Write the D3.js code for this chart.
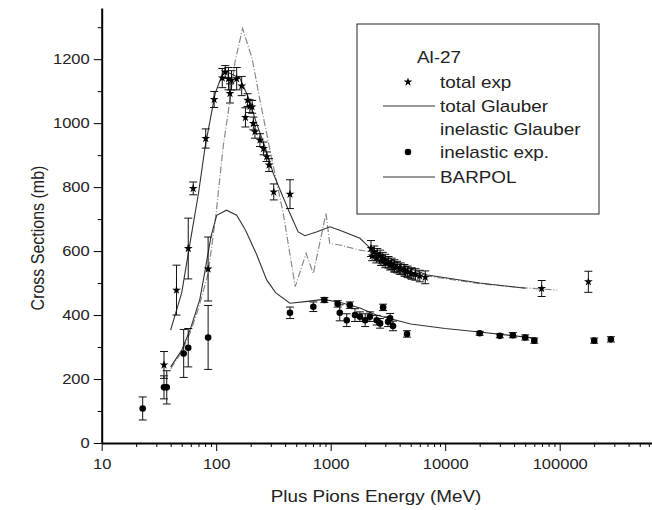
<!DOCTYPE html>
<html>
<head>
<meta charset="utf-8">
<script src="https://cdn.jsdelivr.net/npm/d3@7"></script>
<style>
	body { margin: 0; background: #fff; }
	svg { display: block; font-family: "Liberation Sans", Arial, sans-serif; }
	.axis path, .axis line { stroke: #000; }
	.axis text { font-size: 14px; fill: #222; }
</style>
</head>
<body>
<svg id="chart" width="652" height="510"></svg>
<script>
// total exp: [energy MeV, sigma mb, error]
const totalExp = [
	[35, 244, 42], [45, 478, 78], [57, 608, 95], [63, 796, 20], [81, 952, 30],
	[85, 544, 100], [96, 1074, 25], [113, 1141, 30], [120, 1160, 20], [128, 1139, 35],
	[132, 1093, 30], [136, 1134, 30], [151, 1139, 35], [167, 1116, 30], [180, 1018, 30],
	[188, 1072, 20], [197, 1053, 20], [206, 1051, 20], [211, 999, 20], [218, 973, 20],
	[241, 947, 20], [259, 921, 20], [276, 895, 15], [289, 869, 20], [318, 785, 25],
	[441, 778, 45],
	[2250, 608, 25], [2400, 598, 18], [2550, 590, 18], [2700, 585, 18], [2850, 578, 18],
	[3000, 572, 18], [3200, 565, 18], [3400, 560, 18], [3600, 555, 18], [3800, 550, 18],
	[4100, 545, 18], [4400, 540, 18], [4700, 535, 18], [5100, 530, 18], [5500, 527, 18],
	[6000, 522, 18], [6700, 518, 20],
	[2300, 585, 15], [2500, 578, 15], [2750, 570, 15], [3000, 563, 15], [3300, 556, 15],
	[3600, 549, 15], [4000, 543, 15], [4500, 536, 15], [5000, 530, 15],
	[69600, 483, 25], [178000, 504, 33]
];

// inelastic exp: [energy MeV, sigma mb, error]
const inelExp = [
	[22.8, 108, 36], [35, 174, 36], [37, 174, 52], [52, 280, 75], [57, 298, 60],
	[85, 330, 100], [441, 407, 18], [705, 426, 15], [880, 447, 8], [1150, 435, 10],
	[1200, 407, 25], [1380, 384, 20], [1470, 431, 10], [1630, 400, 20], [1800, 395, 15],
	[2000, 384, 20], [2200, 395, 15], [2520, 384, 15], [2700, 374, 15], [2870, 424, 10],
	[3170, 379, 15], [3300, 390, 15], [3500, 366, 15], [4640, 341, 10], [20000, 343, 6],
	[30000, 335, 6], [39000, 337, 8], [50000, 330, 8], [60000, 320, 8], [200000, 320, 8],
	[280000, 324, 8]
];

const totalGlauber = [
	[40, 353], [50, 470], [60, 640], [70, 780], [80, 926], [98, 1093], [115, 1160],
	[132, 1156], [161, 1140], [190, 1082], [225, 999], [267, 926], [315, 843], [372, 780],
	[440, 718], [520, 660], [595, 648], [750, 660], [985, 676], [1200, 665], [1800, 640],
	[2200, 610], [3000, 585], [5000, 545], [7000, 525], [20000, 500], [50000, 484]
];

const inelGlauber = [
	[40, 238], [50, 290], [60, 360], [72, 450], [80, 540], [90, 645], [101, 712],
	[123, 728], [151, 712], [180, 666], [225, 590], [276, 510], [330, 470], [440, 437],
	[600, 442], [860, 449], [1200, 440], [1800, 422], [2500, 400], [5000, 372],
	[10000, 358], [19000, 348], [63000, 327]
];

const barpol = [
	[40, 232], [50, 285], [60, 350], [70, 420], [85, 530], [100, 720], [115, 926],
	[128, 1040], [146, 1192], [170, 1296], [206, 1202], [241, 1072], [305, 890],
	[385, 718], [490, 489], [610, 593], [705, 530], [910, 718], [980, 624], [1200, 619],
	[1800, 603], [2200, 598], [3000, 575], [5000, 540], [7000, 522], [20000, 498],
	[50000, 485], [95000, 478]
];

const xMajor = [10, 100, 1000, 10000, 100000];
const yMajor = [0, 200, 400, 600, 800, 1000, 1200];

const legendRows = [
	{label: 'Al-27', kind: 'title'},
	{label: 'total exp', kind: 'star'},
	{label: 'total Glauber', kind: 'line'},
	{label: 'inelastic Glauber', kind: 'none'},
	{label: 'inelastic exp.', kind: 'dot'},
	{label: 'BARPOL', kind: 'line'}
];

const svg = d3.select('#chart');
const x = d3.scaleLog().domain([10, 640000]).range([101.7, 652]);
const y = d3.scaleLinear().domain([0, 1360]).range([443, 8]);

// the source picture is a bit wide in its lettering
const SX = 1.18;

// minor ticks
let xMinor = [];
for (let d = 10; d <= 100000; d *= 10)
	for (let k = 2; k <= 9; k++)
		if (d * k <= 640000) xMinor.push(d * k);
let yMinor = d3.range(100, 1400, 200);

svg.append('g')
	.attr('class', 'axis')
	.attr('transform', 'translate(0,443)')
	.call(d3.axisBottom(x).tickValues(xMinor).tickSize(4).tickFormat(''))
	.call(g => g.select('.domain').remove());

svg.append('g')
	.attr('class', 'axis')
	.attr('transform', 'translate(0,443)')
	.call(d3.axisBottom(x).tickValues(xMajor).tickSize(8).tickSizeOuter(0).tickPadding(8).tickFormat(d3.format('d')))
	.call(g => g.select('.domain').attr('stroke-width', 2))
	.call(g => g.selectAll('text').attr('transform', `scale(${SX},1)`));

svg.append('g')
	.attr('class', 'axis')
	.attr('transform', 'translate(101.7,0)')
	.call(d3.axisLeft(y).tickValues(yMinor).tickSize(4).tickFormat(''))
	.call(g => g.select('.domain').remove());

svg.append('g')
	.attr('class', 'axis')
	.attr('transform', 'translate(101.7,0)')
	.call(d3.axisLeft(y).tickValues(yMajor).tickSize(8).tickSizeOuter(0).tickPadding(4).tickFormat(d3.format('d')))
	.call(g => g.select('.domain').attr('stroke-width', 2))
	.call(g => g.selectAll('text').attr('x', -12 / SX).attr('transform', `scale(${SX},1)`));

svg.append('text')
	.attr('transform', `translate(376,502) scale(${SX},1)`)
	.attr('text-anchor', 'middle')
	.attr('font-size', 16).attr('fill', '#222')
	.text('Plus Pions Energy (MeV)');

svg.append('text')
	.attr('transform', `translate(44,238) rotate(-90) scale(1,${SX})`)
	.attr('text-anchor', 'middle')
	.attr('font-size', 16).attr('fill', '#222')
	.text('Cross Sections (mb)');

// curves
const line = d3.line().x(d => x(d[0])).y(d => y(d[1])).curve(d3.curveLinear);

svg.append('path').datum(barpol)
	.attr('d', line).attr('fill', 'none')
	.attr('stroke', '#888').attr('stroke-width', 1.2)
	.attr('stroke-dasharray', '7,2,1,2');

svg.append('path').datum(totalGlauber)
	.attr('d', line).attr('fill', 'none')
	.attr('stroke', '#333').attr('stroke-width', 1.1);

svg.append('path').datum(inelGlauber)
	.attr('d', line).attr('fill', 'none')
	.attr('stroke', '#333').attr('stroke-width', 1.1);

// error bars
function errbars(data) {
	let g = svg.append('g').attr('stroke', '#111').attr('stroke-width', 1);
	g.selectAll('line.v').data(data).enter().append('line')
		.attr('x1', d => x(d[0])).attr('x2', d => x(d[0]))
		.attr('y1', d => y(d[1] - d[2])).attr('y2', d => y(d[1] + d[2]));
	[-1, 1].forEach(s => {
		g.selectAll('line.c' + s).data(data).enter().append('line')
			.attr('x1', d => x(d[0]) - 4).attr('x2', d => x(d[0]) + 4)
			.attr('y1', d => y(d[1] + s * d[2])).attr('y2', d => y(d[1] + s * d[2]));
	});
}
errbars(totalExp);
errbars(inelExp);

const star = d3.symbol().type(d3.symbolStar).size(24);
svg.append('g').selectAll('path').data(totalExp).enter().append('path')
	.attr('d', star)
	.attr('transform', d => `translate(${x(d[0])},${y(d[1])})`)
	.attr('fill', '#000');

svg.append('g').selectAll('circle').data(inelExp).enter().append('circle')
	.attr('cx', d => x(d[0])).attr('cy', d => y(d[1]))
	.attr('r', 3.3).attr('fill', '#000');

// legend
const lg = svg.append('g');
lg.append('rect')
	.attr('x', 357).attr('y', 24).attr('width', 242).attr('height', 190)
	.attr('fill', '#fff').attr('stroke', '#222').attr('stroke-width', 1);

const rowY = [63, 88, 112, 135, 158, 183];
legendRows.forEach((r, i) => {
	lg.append('text')
		.attr('transform', `translate(${r.kind === 'title' ? 417 : 440},${rowY[i]}) scale(${SX},1)`)
		.attr('font-size', 16).attr('fill', '#222')
		.text(r.label);
	let cy = rowY[i] - 6;
	if (r.kind === 'star') {
		lg.append('path').attr('d', star).attr('transform', `translate(408,${cy})`).attr('fill', '#000');
	} else if (r.kind === 'dot') {
		lg.append('circle').attr('cx', 408).attr('cy', cy).attr('r', 3.3).attr('fill', '#000');
	} else if (r.kind === 'line') {
		lg.append('line').attr('x1', 383).attr('x2', 435).attr('y1', cy).attr('y2', cy)
			.attr('stroke', '#333').attr('stroke-width', 1);
	}
});
</script>
</body>
</html>
